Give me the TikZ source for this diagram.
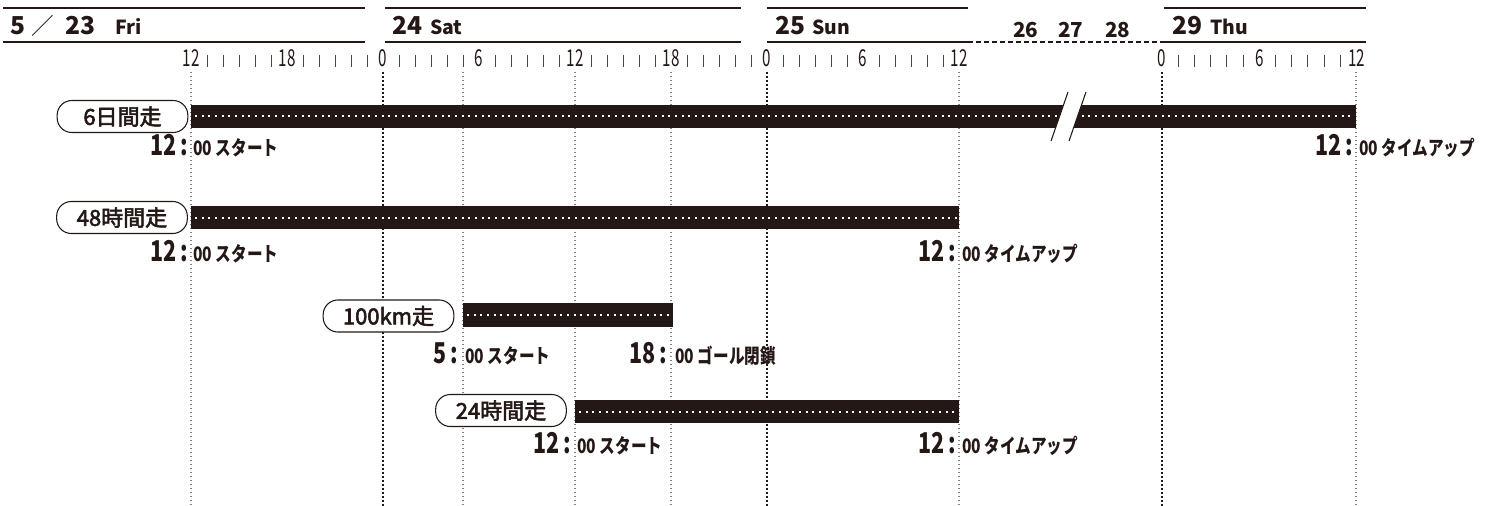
\documentclass[tikz,border=0pt]{standalone}
\usepackage{graphicx}
\usepackage{fontspec}
\newfontfamily\jp{Noto Sans CJK JP}
\newfontfamily\jpm{Noto Sans CJK JP}[FakeBold=2.5]
\definecolor{ink}{HTML}{231815}
\newcommand{\narrow}[2]{\scalebox{#1}[1]{#2}}

\begin{document}
\begin{tikzpicture}[x=0.75pt,y=-0.75pt,
  every node/.style={inner sep=0pt,text=ink},
  day/.style={font=\jp\bfseries\fontsize{18.5}{20}\selectfont,anchor=base west},
  wday/.style={font=\jp\bfseries\fontsize{14.5}{16}\selectfont,anchor=base west},
  hour/.style={font=\jp\fontsize{17.5}{18}\selectfont,anchor=base},
  tick/.style={ink!80,line width=0.7pt},
  rule/.style={ink,line width=1.5pt},
  tag/.style={draw=ink,fill=white,line width=0.8pt,rounded corners=11pt,minimum width=98pt,minimum height=24pt,font=\jpm\fontsize{16.5}{17}\selectfont},
  big/.style={font=\jp\bfseries\fontsize{21.5}{22}\selectfont,anchor=base east},
  small/.style={font=\jp\bfseries\fontsize{15}{16}\selectfont,anchor=base west},
  dots/.style={white,line width=1.5pt,dash pattern=on 1.5pt off 3.5pt},
  daysep/.style={ink,line width=1.4pt,dash pattern=on 1.4pt off 1.6pt},
  hoursep/.style={gray,line width=0.8pt,dash pattern=on 0.8pt off 2.2pt}]
\useasboundingbox (0,0) rectangle (1502,506);

% date header
\draw [rule] (3,8) -- (365,8) (3,42) -- (365,42);
\draw [rule] (385,8) -- (741,8) (385,42) -- (741,42);
\draw [rule] (767,8) -- (968,8) (767,42) -- (968,42);
\draw [rule,dash pattern=on 3.75pt off 2.25pt] (968,42) -- (1164,42);
\draw [rule] (1164,8) -- (1366,8) (1164,42) -- (1366,42);
\node [day] (m5) at (10,35) {5};
\node [day,font=\jp\fontsize{17}{20}\selectfont] (sl) at (31,35) {／};
\node [day] (d23) at (65,35) {23};
\node [wday] (w23) at (115,35) {Fri};
\node [day] (d24) at (392,35) {24};
\node [wday] (w24) at (430,35) {Sat};
\node [day] (d25) at (775,35) {25};
\node [wday] (w25) at (812,35) {Sun};
\node [day,font=\jp\bfseries\fontsize{15.5}{17}\selectfont] (d26) at (1013,38) {26};
\node [day,font=\jp\bfseries\fontsize{15.5}{17}\selectfont] (d27) at (1058,38) {27};
\node [day,font=\jp\bfseries\fontsize{15.5}{17}\selectfont] (d28) at (1105,38) {28};
\node [day] (d29) at (1172,35) {29};
\node [wday] (w29) at (1210,35) {Thu};

% hour scale
\foreach \h/\t in {0/12,6/18,12/0,18/6,24/12,30/18,36/0,42/6,48/12}
  \node [hour] (h\h) at ({191+16*\h},67) {\narrow{0.65}{\t}};
\foreach \h/\t in {0/0,6/6,12/12}
  \node [hour] (t\h) at ({1162+16.2*\h},67) {\narrow{0.65}{\t}};
\foreach \k in {0,...,7}
  \foreach \i in {1,...,5}
    \draw [tick] ({191+16*(6*\k+\i)},55) -- ++(0,12);
\foreach \k in {0,1}
  \foreach \i in {1,...,5}
    \draw [tick] ({1162+16.2*(6*\k+\i)},55) -- ++(0,12);

% guide lines
\foreach \x in {383,767,1162}
  \draw [daysep] (\x,72) -- (\x,506);
\foreach \x in {191,463,575,671,959,1356}
  \draw [hoursep] (\x,72) -- (\x,506);

% 6 days
\fill [ink] (191,105) rectangle (1356,128);
\draw [dots] (195,116.5) -- (1354,116.5);
\fill [white] (1068,92) -- (1086,92) -- (1069,141) -- (1051,141) -- cycle;
\draw [ink,line width=0.8pt] (1068,92) -- (1051,141) (1086,92) -- (1069,141);
\node [tag] (r6) at (122.5,116.5) {6日間走};
\node [big] (s6) at (188,156) {\narrow{0.75}{12\,:}};
\node [small] (s6t) at (193,156) {\narrow{0.78}{00 スタート}};
\node [big] (e6) at (1353,156) {\narrow{0.75}{12\,:}};
\node [small] (e6t) at (1359,156) {\narrow{0.78}{00 タイムアップ}};

% 48 hours
\fill [ink] (191,206) rectangle (959,229);
\draw [dots] (195,217.5) -- (957,217.5);
\node [tag] (r48) at (122,217.5) {48時間走};
\node [big] (s48) at (188,261) {\narrow{0.75}{12\,:}};
\node [small] (s48t) at (193,261) {\narrow{0.78}{00 スタート}};
\node [big] (e48) at (956,261) {\narrow{0.75}{12\,:}};
\node [small] (e48t) at (962,261) {\narrow{0.78}{00 タイムアップ}};

% 100 km
\fill [ink] (463,303) rectangle (673,327);
\draw [dots] (467,315) -- (671,315);
\node [tag] (r100) at (388.5,316) {100km走};
\node [big] (s100) at (458,363) {\narrow{0.75}{5\,:}};
\node [small] (s100t) at (465,363) {\narrow{0.78}{00 スタート}};
\node [big] (e100) at (667,363) {\narrow{0.75}{18\,:}};
\node [small] (e100t) at (675,363) {\narrow{0.78}{00 ゴール閉鎖}};

% 24 hours
\fill [ink] (575,400) rectangle (959,423);
\draw [dots] (579,411.5) -- (957,411.5);
\node [tag] (r24) at (501,410.5) {24時間走};
\node [big] (s24) at (571,453) {\narrow{0.75}{12\,:}};
\node [small] (s24t) at (577,453) {\narrow{0.78}{00 スタート}};
\node [big] (e24) at (956,453) {\narrow{0.75}{12\,:}};
\node [small] (e24t) at (962,453) {\narrow{0.78}{00 タイムアップ}};
\end{tikzpicture}
\end{document}
